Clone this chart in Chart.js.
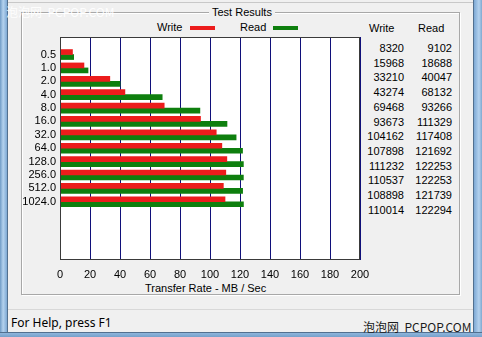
<!DOCTYPE html>
<html>
<head>
<meta charset="utf-8">
<script src="https://cdn.jsdelivr.net/npm/chart.js@4.4.0/dist/chart.umd.min.js"></script>
<style>
  html, body { margin: 0; padding: 0; }
  body {
    width: 482px; height: 337px; position: relative; overflow: hidden;
    background: #f0f0f0; color: #000;
    font-family: "Liberation Sans", Arial, sans-serif; font-size: 11px;
  }
  .abs { position: absolute; white-space: nowrap; height: 12px; line-height: 12px; }
  #frameL { position: absolute; left: 0; top: 0; width: 7px; height: 337px;
    background: linear-gradient(to right, #6f9bc6, #b4d2ee 45%, #7ea9d4); border-right: 1px solid #52708f; }
  #frameR { position: absolute; left: 473px; top: 0; width: 9px; height: 337px;
    background: linear-gradient(to right, #7ea9d4, #b4d2ee 55%, #6f9bc6); border-left: 1px solid #52708f; }
  #frameB { position: absolute; left: 0; top: 332px; width: 482px; height: 5px;
    background: linear-gradient(to bottom, #8fb6dc, #6f9bc6); border-top: 1px solid #52708f; }
  #topLine { position: absolute; left: 8px; top: 2px; width: 465px; height: 1px; background: #c8c8c8; }
  #group { position: absolute; left: 21px; top: 12px; width: 437px; height: 281px;
    border: 1px solid #a8a8a8; box-shadow: inset 1px 1px 0 #fff, 1px 1px 0 #fff; }
  #groupTitle { left: 209px; top: 6px; padding: 0 3px; background: #f0f0f0; }
  #statusLine { position: absolute; left: 8px; top: 309px; width: 465px; height: 1px; background: #d8d8d8; }
  #status { left: 11px; top: 316px; font-family: "Noto Sans", sans-serif; font-size: 12px; height: 14px; line-height: 14px; }
  .wm { font-family: "Noto Sans CJK SC", "Liberation Sans", sans-serif; font-size: 12px; height: 14px; line-height: 14px; }
  #wmTop { left: 6px; top: 5px; color: rgba(255,255,255,0.9); }
  #wmBottom { left: 363px; top: 320px; color: #1c1c1c; }
  .swatch { position: absolute; height: 4px; }
  .num { position: absolute; text-align: right; width: 50px; height: 12px; line-height: 12px; }
  #axisTitle { left: 145px; top: 282px; }
  canvas { position: absolute; left: 0; top: 0; z-index: 2; }
</style>
</head>
<body>
<div id="frameL"></div>
<div id="frameR"></div>
<div id="topLine"></div>
<div id="group"></div>
<div class="abs" id="groupTitle" style="left:209px;top:6px;">Test Results</div>
<div class="abs" style="left:157px;top:21px;">Write</div>
<div class="swatch" id="swWrite" style="left:190px;top:26px;width:25px;"></div>
<div class="abs" style="left:240px;top:21px;">Read</div>
<div class="swatch" id="swRead" style="left:273px;top:26px;width:25px;"></div>
<div class="abs" style="left:369px;top:22px;">Write</div>
<div class="abs" style="left:418px;top:22px;">Read</div>
<div id="numbers"></div>
<div class="abs" id="axisTitle">Transfer Rate - MB / Sec</div>
<div id="statusLine"></div>
<div class="abs" id="status">For Help, press F1</div>
<div id="frameB"></div>
<div class="abs wm" id="wmTop">泡泡网&nbsp;&nbsp;PCPOP.COM</div>
<div class="abs wm" id="wmBottom">泡泡网&nbsp;&nbsp;PCPOP.COM</div>
<canvas id="chart" width="482" height="337"></canvas>

<script>
// transfer sizes (KB) and measured rates (KB/s)
const blockSizes = ["0.5", "1.0", "2.0", "4.0", "8.0", "16.0", "32.0", "64.0", "128.0", "256.0", "512.0", "1024.0"];
const writeRates = [8320, 15968, 33210, 43274, 69468, 93673, 104162, 107898, 111232, 110537, 108898, 110014];
const readRates = [9102, 18688, 40047, 68132, 93266, 111329, 117408, 121692, 122253, 122253, 121739, 122294];
const rateTicks = [0, 20, 40, 60, 80, 100, 120, 140, 160, 180, 200];

const writeColor = "#ec1c1c";
const readColor = "#0e7f0e";

document.getElementById("swWrite").style.background = writeColor;
document.getElementById("swRead").style.background = readColor;

// numeric columns on the right
const numbers = document.getElementById("numbers");
blockSizes.forEach((b, i) => {
    const top = 42 + i * 14.7;
    [[writeRates[i], 354], [readRates[i], 402]].forEach(([v, left]) => {
        const d = document.createElement("div");
        d.className = "num";
        d.style.left = left + "px";
        d.style.top = top.toFixed(1) + "px";
        d.textContent = v;
        numbers.appendChild(d);
    });
});

const plotFrame = {
    id: "plotFrame",
    beforeDraw(chart) {
        const { ctx, chartArea: a } = chart;
        ctx.save();
        ctx.fillStyle = "#ffffff";
        ctx.fillRect(a.left, a.top, a.right - a.left, a.bottom - a.top);
        ctx.restore();
    },
    afterDraw(chart) {
        const { ctx, chartArea: a } = chart;
        ctx.save();
        ctx.strokeStyle = "#3a3a3a";
        ctx.lineWidth = 1;
        ctx.strokeRect(a.left + 0.5, a.top + 0.5, a.right - a.left - 1, a.bottom - a.top - 1);
        ctx.restore();
    }
};

const font = { family: "'Liberation Sans', Arial, sans-serif", size: 11 };

new Chart(document.getElementById("chart"), {
    type: "bar",
    data: {
        datasets: [{
            label: "Write",
            data: writeRates.map((v, i) => ({ x: v / 1000, y: i })),
            backgroundColor: writeColor,
            borderWidth: 0,
            barThickness: 5
        }, {
            label: "Read",
            data: readRates.map((v, i) => ({ x: v / 1000, y: i })),
            backgroundColor: readColor,
            borderWidth: 0,
            barThickness: 5
        }]
    },
    options: {
        indexAxis: "y",
        responsive: false,
        animation: false,
        devicePixelRatio: 1,
        layout: { padding: { left: 0, top: 37, right: 122, bottom: 57 } },
        plugins: { legend: { display: false }, tooltip: { enabled: false } },
        scales: {
            x: {
                type: "linear",
                min: 0,
                max: 200,
                afterBuildTicks: (scale) => { scale.ticks = rateTicks.map(v => ({ value: v })); },
                afterFit: (scale) => { scale.height = 20; },
                ticks: { color: "#000", font, padding: 8, maxRotation: 0, autoSkip: false },
                grid: { color: "#10107a", lineWidth: 1, drawTicks: false },
                border: { display: false }
            },
            y: {
                type: "linear",
                reverse: true,
                min: -0.6167,
                max: 14.66,
                afterBuildTicks: (scale) => { scale.ticks = blockSizes.map((_, i) => ({ value: i })); },
                afterFit: (scale) => { scale.width = 60; },
                ticks: { color: "#000", font, padding: 4, autoSkip: false, callback: (v) => blockSizes[v] },
                grid: { display: false, drawTicks: false },
                border: { display: false }
            }
        }
    },
    plugins: [plotFrame]
});
</script>
</body>
</html>
